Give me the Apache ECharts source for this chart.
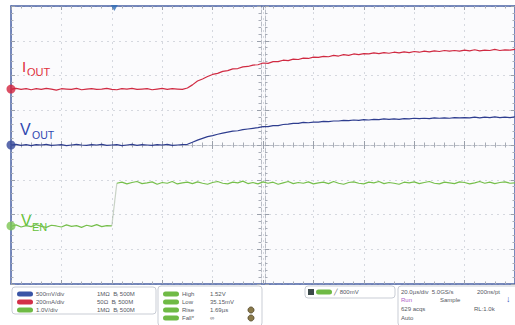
<!DOCTYPE html>
<html>
<head>
<meta charset="utf-8">
<script src="https://cdn.jsdelivr.net/npm/echarts@6/dist/echarts.min.js"></script>
<style>
  html, body { margin: 0; padding: 0; background: #ffffff; }
  #scope { width: 515px; height: 325px; }
</style>
</head>
<body>
<div id="scope"></div>
<script>
// time in µs (20 µs/div, trigger at 0), levels in screen divisions (0..8)
const timeUs = [-40,-38,-36,-34,-32,-30,-28,-26,-24,-22,-20,-18,-16,-14,-12,-10,-8,-6,-4,-2,
  0,2,4,6,8,10,12,14,16,18,20,22,24,26,28,30,32,34,36,38,40,42,44,46,48,50,52,54,56,58,
  60,62,64,66,68,70,72,74,76,78,80,82,84,86,88,90,92,94,96,98,100,102,104,106,108,110,
  112,114,116,118,120,122,124,126,128,130,132,134,136,138,140,142,144,146,148,150,152,
  154,156,158,160];

const iOut = [5.61,5.63,5.60,5.62,5.59,5.62,5.60,5.63,5.61,5.58,5.62,5.61,5.60,5.63,5.59,
  5.61,5.62,5.60,5.61,5.63,5.60,5.59,5.62,5.61,5.63,5.60,5.61,5.62,5.59,5.61,5.63,5.60,5.62,5.61,5.60,
  5.64,5.73,5.84,5.90,5.97,6.03,6.06,6.12,6.14,6.19,6.20,6.25,6.26,6.30,6.31,6.36,6.35,6.40,6.40,6.44,
  6.43,6.47,6.46,6.50,6.49,6.53,6.52,6.55,6.54,6.58,6.56,6.60,6.58,6.62,6.60,6.63,6.62,6.65,6.63,6.66,
  6.64,6.67,6.65,6.68,6.66,6.69,6.67,6.70,6.68,6.71,6.69,6.72,6.70,6.72,6.70,6.73,6.71,6.74,6.71,6.73,
  6.72,6.75,6.72,6.74,6.73,6.75];

const vOut = [4.00,4.02,3.99,4.01,3.98,4.01,4.00,4.02,3.99,4.00,4.01,3.98,4.00,4.02,4.00,
  3.99,4.01,4.00,4.02,3.99,4.00,4.01,3.98,4.00,4.02,3.99,4.01,4.00,3.99,4.01,4.00,4.02,3.99,4.00,4.01,
  4.02,4.08,4.14,4.19,4.24,4.27,4.31,4.34,4.37,4.40,4.41,4.44,4.46,4.48,4.50,4.53,4.53,4.56,4.56,4.59,
  4.60,4.62,4.62,4.65,4.64,4.66,4.66,4.68,4.67,4.69,4.69,4.71,4.70,4.72,4.71,4.73,4.72,4.74,4.73,4.75,
  4.74,4.75,4.74,4.76,4.75,4.77,4.76,4.77,4.76,4.78,4.77,4.78,4.77,4.79,4.78,4.79,4.78,4.80,4.78,4.80,
  4.79,4.81,4.79,4.80,4.79,4.81];

const vEn = [1.66,1.70,1.64,1.68,1.65,1.71,1.66,1.63,1.69,1.67,1.64,1.70,1.66,1.68,1.63,1.69,
  1.66,1.71,1.65,1.68,1.67,
  2.90,2.93,2.88,2.92,2.95,2.89,2.91,2.94,2.87,2.92,2.90,2.95,2.88,2.91,2.93,2.89,2.94,2.90,2.87,2.92,
  2.95,2.90,2.88,2.93,2.91,2.96,2.89,2.92,2.88,2.94,2.90,2.93,2.87,2.91,2.95,2.89,2.92,2.90,2.94,2.88,
  2.91,2.93,2.89,2.95,2.90,2.87,2.92,2.94,2.90,2.88,2.93,2.91,2.95,2.89,2.92,2.90,2.87,2.93,2.91,2.94,
  2.89,2.92,2.95,2.90,2.88,2.93,2.91,2.89,2.94,2.92,2.88,2.91,2.95,2.90,2.93,2.89,2.92,2.94,2.90,2.91];

// index of the first sample after the enable edge
const enEdgeIndex = 21;

// channel ground markers and trigger position
const channelOffsets = [5.61, 4.00, 1.67];
const triggerTime = 1;

const chColors = { iout: '#d02a42', vout: '#2e3d8f', ven: '#76bf4c' };
const frameBlue = '#4a62a4';
const gridGrey = '#d5d8df';
const FONT = '"Liberation Sans", Arial, sans-serif';

const chart = echarts.init(document.getElementById('scope'), null, { renderer: 'svg' });

function pair(vals, from, to) {
  const out = [];
  for (let i = from; i < to; i++) out.push([timeUs[i], vals[i]]);
  return out;
}

function xAx(pos, offset, main) {
  return {
    type: 'value', min: -40, max: 160, interval: 20, position: pos, offset: offset,
    axisLine: { show: true, onZero: false, lineStyle: main ? { color: frameBlue, width: 1.5 } : { color: '#b9bdc6', type: 'dashed' } },
    axisTick: { show: true, inside: true, length: 4, lineStyle: { color: '#9aa0ab' } },
    minorTick: { show: true, splitNumber: 5, length: 2.5, lineStyle: { color: '#a8adb7' } },
    axisLabel: { show: false },
    splitLine: { show: pos === 'bottom' && main, lineStyle: { color: gridGrey, type: [2, 4] } }
  };
}

function yAx(pos, offset, main) {
  return {
    type: 'value', min: 0, max: 8, interval: 1, position: pos, offset: offset,
    axisLine: { show: true, onZero: false, lineStyle: main ? { color: frameBlue, width: 1.5 } : { color: '#b9bdc6', type: 'dashed' } },
    axisTick: { show: true, inside: true, length: 4, lineStyle: { color: '#9aa0ab' } },
    minorTick: { show: true, splitNumber: 5, length: 2.5, lineStyle: { color: '#a8adb7' } },
    axisLabel: { show: false },
    splitLine: { show: pos === 'left' && main, lineStyle: { color: gridGrey, type: [2, 4] } }
  };
}

function trace(name, data, color, opacity) {
  return {
    name: name, type: 'line', data: data, showSymbol: false, symbol: 'none',
    lineStyle: { color: color, width: 1.2, opacity: opacity == null ? 1 : opacity }, silent: true, z: 5
  };
}

// ---- bottom info panel ----
const panel = [];
function box(x, y, w, h) {
  panel.push({ type: 'rect', shape: { x: x, y: y, width: w, height: h, r: 3 },
    style: { fill: '#ffffff', stroke: '#c9cdd5', lineWidth: 1 } });
}
function pill(x, y, color) {
  panel.push({ type: 'rect', shape: { x: x, y: y - 2.5, width: 16, height: 5, r: 2.5 },
    style: { fill: color } });
}
function txt(x, y, s, color, size) {
  panel.push({ type: 'text', x: x, y: y,
    style: { text: s, fill: color || '#55595f', font: (size || 6) + 'px ' + FONT, textVerticalAlign: 'middle' } });
}

box(12, 287, 144, 27);
pill(17, 294, '#3a55a6'); txt(36, 294, '500mV/div'); txt(97, 294, '1MΩ  B\u2097 500M');
pill(17, 302, '#d33048'); txt(36, 302, '200mA/div'); txt(97, 302, '50Ω  B\u2097 500M');
pill(17, 310, '#6fba45'); txt(36, 310, '1.0V/div');  txt(97, 310, '1MΩ  B\u2097 500M');

box(158, 286, 104, 40);
const measNames = ['High', 'Low', 'Rise', 'Fall*'];
const measVals = ['1.52V', '35.15mV', '1.69µs', '∞'];
measNames.forEach((n, i) => {
  const y = 294 + i * 8;
  pill(163, y, '#6fba45'); txt(182, y, n); txt(210, y, measVals[i]);
});
panel.push({ type: 'circle', shape: { cx: 251, cy: 310, r: 3 }, style: { fill: '#8a7a4a', stroke: '#5e5232' } });
panel.push({ type: 'circle', shape: { cx: 251, cy: 318, r: 3 }, style: { fill: '#8a7a4a', stroke: '#5e5232' } });

box(305, 286, 90, 12);
panel.push({ type: 'rect', shape: { x: 308, y: 289, width: 6, height: 6 }, style: { fill: '#3c4a4a' } });
pill(316, 292, '#6fba45'); txt(334, 292, '╱ 800mV');

box(398, 286, 130, 40);
txt(401, 292, '20.0µs/div  5.0GS/s'); txt(477, 292, '200ns/pt');
txt(401, 300, 'Run', '#b060c8'); txt(440, 300, 'Sample');
txt(401, 309, '629 acqs'); txt(474, 309, 'RL:1.0k');
txt(401, 318, 'Auto');
txt(506, 299, '↓', '#3a55c0', 9);

// ---- channel labels ----
const labels = [
  { type: 'text', x: 22, y: 59, style: { text: 'I', fill: '#e0303c', font: '15px ' + FONT } },
  { type: 'text', x: 27, y: 66, style: { text: 'OUT', fill: '#e0303c', font: '11px ' + FONT } },
  { type: 'text', x: 20, y: 121, style: { text: 'V', fill: '#3048b0', font: '16px ' + FONT } },
  { type: 'text', x: 32, y: 129, style: { text: 'OUT', fill: '#3048b0', font: '10.5px ' + FONT } },
  { type: 'text', x: 21, y: 212, style: { text: 'V', fill: '#66c23a', font: '16px ' + FONT } },
  { type: 'text', x: 32, y: 221, style: { text: 'EN', fill: '#66c23a', font: '11px ' + FONT } }
];

const option = {
  backgroundColor: '#ffffff',
  animation: false,
  grid: { left: 11, top: 6, width: 508, height: 278, show: true, backgroundColor: '#fbfbfd', borderWidth: 0 },
  xAxis: [xAx('bottom', 0, true), xAx('top', 0, true), xAx('bottom', -139, false), xAx('top', -139, false)],
  yAxis: [yAx('left', 0, true), yAx('right', 0, true), yAx('left', -254, false), yAx('right', -254, false)],
  series: [
    trace('VEN low', pair(vEn, 0, enEdgeIndex), chColors.ven),
    trace('VEN edge', pair(vEn, enEdgeIndex - 1, enEdgeIndex + 1), '#8aa080', 0.45),
    trace('VEN high', pair(vEn, enEdgeIndex, timeUs.length), chColors.ven),
    trace('VOUT', pair(vOut, 0, timeUs.length), chColors.vout),
    trace('IOUT', pair(iOut, 0, timeUs.length), chColors.iout),
    {
      type: 'scatter', silent: true, clip: false, z: 8, symbolSize: 9,
      data: [
        { value: [-40, channelOffsets[0]], itemStyle: { color: '#d3243e' } },
        { value: [-40, channelOffsets[1]], itemStyle: { color: '#34479a' } },
        { value: [-40, channelOffsets[2]], itemStyle: { color: '#7cc552' } }
      ]
    },
    {
      type: 'scatter', silent: true, clip: false, z: 8, symbol: 'triangle', symbolRotate: 180,
      symbolSize: [7, 6], symbolOffset: [0, 2], itemStyle: { color: '#2f6db5' },
      data: [[triggerTime, 8]]
    }
  ],
  graphic: panel.concat(labels)
};

chart.setOption(option);
</script>
</body>
</html>
